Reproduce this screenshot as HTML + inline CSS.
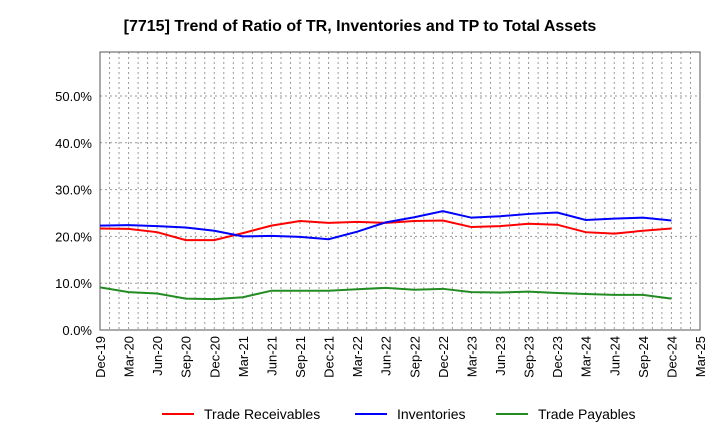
<!DOCTYPE html>
<html><head><meta charset="utf-8"><style>body{margin:0;background:#fff}svg{font-family:"Liberation Sans",sans-serif}</style></head><body>
<svg id="c" width="720" height="440">
<text x="360" y="31" text-anchor="middle" font-size="16" font-weight="bold">[7715]  Trend of Ratio of TR, Inventories and TP to Total Assets</text>
</svg>
<script>
const xLabels=["Dec-19","Mar-20","Jun-20","Sep-20","Dec-20","Mar-21","Jun-21","Sep-21","Dec-21","Mar-22","Jun-22","Sep-22","Dec-22","Mar-23","Jun-23","Sep-23","Dec-23","Mar-24","Jun-24","Sep-24","Dec-24","Mar-25"];
const yTicks=[0,10,20,30,40,50];
const tr=[21.7,21.6,20.9,19.2,19.2,20.7,22.3,23.3,22.9,23.1,22.9,23.3,23.4,22.0,22.2,22.7,22.5,20.9,20.6,21.2,21.7];
const inv=[22.3,22.4,22.2,21.9,21.2,20.0,20.1,19.9,19.4,21.0,23.0,24.1,25.4,24.0,24.3,24.8,25.1,23.5,23.8,24.0,23.4];
const tp=[9.1,8.1,7.8,6.7,6.6,7.0,8.4,8.4,8.4,8.7,9.0,8.6,8.8,8.1,8.0,8.2,7.9,7.7,7.5,7.5,6.7];
const svg=document.getElementById('c');const NS="http://www.w3.org/2000/svg";
const L=100,R=700,T=52,B=330;
const step=(R-L)/(xLabels.length-1);
const xs=i=>L+i*step;
const ys=v=>B-v*4.68;
function mk(t,a){const e=document.createElementNS(NS,t);for(const k in a)e.setAttribute(k,a[k]);svg.appendChild(e);return e;}
let e;
for(let m=1;m<(xLabels.length-1)*3;m++){const x=L+m*step/3;
 e=mk('line',{x1:x,x2:x,y1:T,y2:B,stroke:'#999','stroke-dasharray':'2,3'});
 
 
}
yTicks.forEach(v=>{const y=ys(v);
 e=mk('line',{x1:L,x2:R,y1:y,y2:y,stroke:'#999','stroke-dasharray':'2,3'});
 
 
 e=mk('text',{x:L-8,y:y+5,'font-size':13,'text-anchor':'end'});
 e.textContent=v.toFixed(1)+'%';
 
 
});
e=mk('rect',{x:L,y:T,width:R-L,height:B-T,fill:'none',stroke:'#555'});


xLabels.forEach((l,i)=>{const x=xs(i);
 e=mk('text',{x:0,y:0,'font-size':13,'text-anchor':'end',transform:`translate(${x+5},${B+6}) rotate(-90)`});
 e.textContent=l;
 
 
});
[[tr,'#ff0000','trade-receivables-line'],[inv,'#0000ff','inventories-line'],[tp,'#228b22','trade-payables-line']].forEach(([d,c,n])=>{
 e=mk('polyline',{points:d.map((v,i)=>xs(i)+','+ys(v)).join(' '),fill:'none',stroke:c,'stroke-width':2});
 
 
});
[['Trade Receivables','#ff0000',162],['Inventories','#0000ff',355],['Trade Payables','#228b22',496]].forEach(([t,c,x])=>{
 e=mk('line',{x1:x,x2:x+32,y1:414,y2:414,stroke:c,'stroke-width':2});
 
 
 e=mk('text',{x:x+42,y:419,'font-size':14});
 e.textContent=t;
 
 
});
</script>
</body></html>
